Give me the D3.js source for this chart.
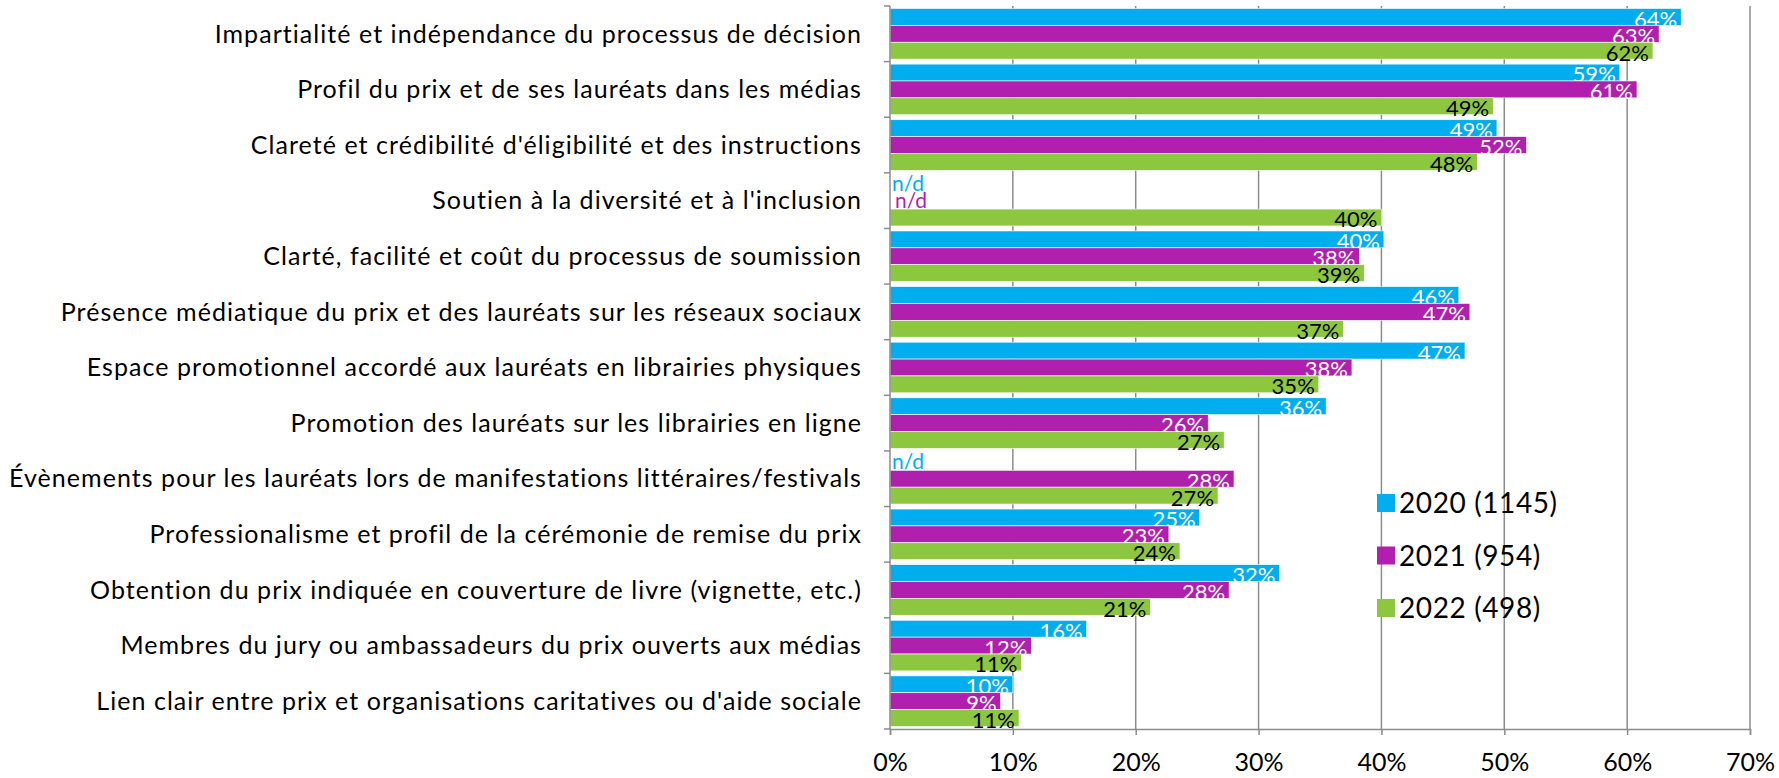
<!DOCTYPE html>
<html><head><meta charset="utf-8">
<script src="https://cdn.jsdelivr.net/npm/d3@7"></script>
<style>body{margin:0;background:#fff;} svg{display:block;}</style>
</head><body>
<svg id="c" width="1779" height="778"></svg>
<script>
const categories = [
  "Impartialité et indépendance du processus de décision",
  "Profil du prix et de ses lauréats dans les médias",
  "Clareté et crédibilité d'éligibilité et des instructions",
  "Soutien à la diversité et à l'inclusion",
  "Clarté, facilité et coût du processus de soumission",
  "Présence médiatique du prix et des lauréats sur les réseaux sociaux",
  "Espace promotionnel accordé aux lauréats en librairies physiques",
  "Promotion des lauréats sur les librairies en ligne",
  "Évènements pour les lauréats lors de manifestations littéraires/festivals",
  "Professionalisme et profil de la cérémonie de remise du prix",
  "Obtention du prix indiquée en couverture de livre (vignette, etc.)",
  "Membres du jury ou ambassadeurs du prix ouverts aux médias",
  "Lien clair entre prix et organisations caritatives ou d'aide sociale"
];
const seriesNames = ["2020 (1145)", "2021 (954)", "2022 (498)"];
const values2020 = [64.4, 59.4, 49.4, null, 40.2, 46.3, 46.8, 35.5, null, 25.2, 31.7, 16.0, 10.0];
const values2021 = [62.6, 60.8, 51.8, null, 38.2, 47.2, 37.6, 25.9, 28.0, 22.7, 27.6, 11.5, 9.0];
const values2022 = [62.1, 49.1, 47.8, 40.0, 38.6, 36.9, 34.9, 27.2, 26.7, 23.6, 21.2, 10.7, 10.5];
const xTicks = [0, 10, 20, 30, 40, 50, 60, 70];
const colors = ["#00AEEF", "#B01FAD", "#8DC63F"];
const labelColors = ["#ffffff", "#ffffff", "#000000"];

const series = [values2020, values2021, values2022];
const svg = d3.select("#c");
const FONT = "Lato, 'Open Sans', sans-serif";

const x = d3.scaleLinear().domain([0, 70]).range([890, 1750]);
const y = d3.scaleBand().domain(categories).range([6, 729]).paddingInner(0.09).paddingOuter(0.045);
const ySub = d3.scaleBand().domain([0, 1, 2]).range([0, y.bandwidth()]);
const step = y.step();

// gridlines
svg.append("g").selectAll("line").data(xTicks.slice(1)).join("line")
  .attr("x1", d => x(d)).attr("x2", d => x(d))
  .attr("y1", 6).attr("y2", 729)
  .attr("stroke", "#8c8c8c").attr("stroke-width", 1.5);

// bars
const groups = svg.append("g").selectAll("g").data(categories).join("g")
  .attr("transform", d => `translate(0,${y(d)})`);
groups.each(function(cat, i) {
  const g = d3.select(this);
  series.forEach((s, k) => {
    const v = s[i];
    const by = ySub(k);
    const bh = ySub.bandwidth();
    if (v === null) {
      g.append("text").attr("x", x(0) + 2 + k * 3).attr("y", by + bh - 1)
        .attr("font-family", FONT).attr("font-size", 21)
        .attr("fill", colors[k]).text("n/d");
      return;
    }
    g.append("rect").attr("x", x(0)).attr("y", by)
      .attr("width", x(v) - x(0)).attr("height", bh)
      .attr("fill", colors[k]).attr("stroke", "#ffffff").attr("stroke-width", 0.6);
    g.append("text").attr("x", x(v) - 4).attr("y", by + bh + 1.5)
      .attr("text-anchor", "end")
      .attr("font-family", FONT).attr("font-size", 22)
      .attr("fill", labelColors[k]).text(Math.round(v) + "%");
  });
});

// left axis
svg.append("line").attr("x1", x(0)).attr("x2", x(0)).attr("y1", 6).attr("y2", 729)
  .attr("stroke", "#8c8c8c").attr("stroke-width", 1.5);
svg.append("g").selectAll("line").data(d3.range(categories.length + 1)).join("line")
  .attr("x1", x(0) - 6).attr("x2", x(0))
  .attr("y1", i => 6 + i * step).attr("y2", i => 6 + i * step)
  .attr("stroke", "#8c8c8c").attr("stroke-width", 1.5);

// category labels
svg.append("g").selectAll("text").data(categories).join("text")
  .attr("x", 862).attr("y", d => y(d) + y.bandwidth() / 2)
  .attr("dy", "0.35em").attr("text-anchor", "end")
  .attr("font-family", FONT).attr("font-size", 25).attr("letter-spacing", 1.05).attr("fill", "#000")
  .text(d => d);

// bottom axis
const xAxis = d3.axisBottom(x).tickValues(xTicks).tickFormat(d => d + "%").tickSize(6).tickPadding(18);
const ax = svg.append("g").attr("transform", "translate(0,729)").call(xAxis);
ax.select(".domain").attr("stroke", "#8c8c8c").attr("stroke-width", 1.5);
ax.selectAll(".tick line").attr("stroke", "#8c8c8c").attr("stroke-width", 1.5);
ax.selectAll(".tick text").attr("font-family", FONT).attr("font-size", 25).attr("fill", "#000");

// legend
const leg = svg.append("g").attr("transform", "translate(1377,494)");
seriesNames.forEach((n, k) => {
  leg.append("rect").attr("x", 0).attr("y", k * 52.5).attr("width", 18).attr("height", 18).attr("fill", colors[k]);
  leg.append("text").attr("x", 22).attr("y", k * 52.5 + 9).attr("dy", "0.36em")
    .attr("font-family", FONT).attr("font-size", 28).attr("letter-spacing", 0.6).attr("fill", "#000").text(n);
});
</script>
</body></html>
